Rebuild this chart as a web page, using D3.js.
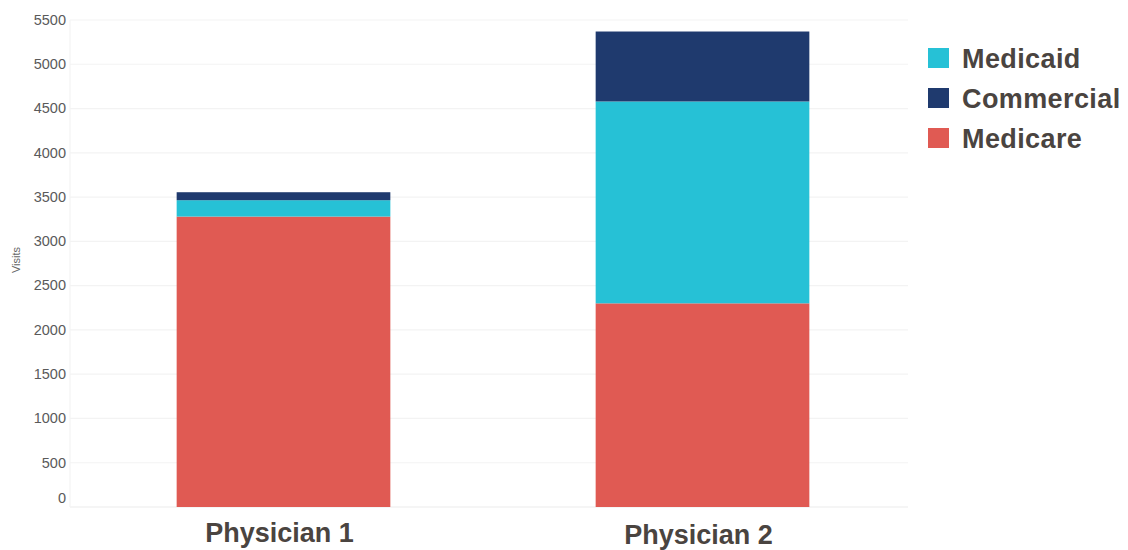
<!DOCTYPE html>
<html>
<head>
<meta charset="utf-8">
<script src="https://cdn.jsdelivr.net/npm/d3@7"></script>
<style>
  html, body { margin: 0; padding: 0; background: #ffffff; }
  svg { display: block; }
</style>
</head>
<body>
<svg id="chart" width="1128" height="550"></svg>
<script>
// Visits per physician, split by payer
const physicians = ["Physician 1", "Physician 2"];
const payers = ["Medicare", "Medicaid", "Commercial"];      // stacking order, bottom to top
const medicare   = [3280, 2300];
const medicaid   = [185, 2280];
const commercial = [90, 790];
const yTicks = [0, 500, 1000, 1500, 2000, 2500, 3000, 3500, 4000, 4500, 5000, 5500];
const legendOrder = ["Medicaid", "Commercial", "Medicare"];

const colors = { Medicare: "#e05a53", Medicaid: "#26c1d6", Commercial: "#1f3a6e" };

const rows = physicians.map((p, i) => ({
  name: p, Medicare: medicare[i], Medicaid: medicaid[i], Commercial: commercial[i]
}));

const svg = d3.select("#chart");
const plotLeft = 70, plotRight = 908, plotTop = 20, plotBottom = 507;

const x = d3.scaleBand().domain(physicians).range([74, 912]).paddingInner(0.49).paddingOuter(0.245);
const y = d3.scaleLinear().domain([0, 5500]).range([plotBottom, plotTop]);

// gridlines
svg.append("g").selectAll("line").data(yTicks).join("line")
  .attr("x1", plotLeft).attr("x2", plotRight)
  .attr("y1", d => y(d)).attr("y2", d => y(d))
  .attr("stroke", d => d === 0 ? "#ececec" : "#f3f3f3").attr("stroke-width", 1.2);
svg.append("line")
  .attr("x1", plotLeft).attr("x2", plotLeft).attr("y1", plotTop).attr("y2", plotBottom)
  .attr("stroke", "#f3f3f3").attr("stroke-width", 1.2);

// y axis labels
const yAxis = d3.axisLeft(y).tickValues(yTicks).tickFormat(d3.format("d")).tickSize(0).tickPadding(4);
const yg = svg.append("g").attr("transform", `translate(${plotLeft},0)`).call(yAxis);
yg.select(".domain").remove();
yg.selectAll("text")
  .attr("font-family", "Liberation Sans, Arial, sans-serif")
  .attr("font-size", 14.5).attr("fill", "#5a5a5a")
  .attr("dy", d => d === 0 ? "-0.3em" : "0.3em");

svg.append("text")
  .attr("transform", `translate(20,260) rotate(-90)`)
  .attr("text-anchor", "middle")
  .attr("font-family", "Liberation Sans, Arial, sans-serif")
  .attr("font-size", 11).attr("fill", "#666")
  .text("Visits");

// stacked bars
const series = d3.stack().keys(payers)(rows);
svg.append("g").selectAll("g").data(series).join("g")
  .attr("fill", s => colors[s.key])
  .selectAll("rect").data(s => s).join("rect")
  .attr("x", d => x(d.data.name))
  .attr("width", x.bandwidth())
  .attr("y", d => y(d[1]))
  .attr("height", d => y(d[0]) - y(d[1]));

// category labels
svg.append("g").selectAll("text").data(physicians).join("text")
  .attr("x", d => x(d) + x.bandwidth() / 2 - 4)
  .attr("y", (d, i) => i === 0 ? 542 : 544)
  .attr("text-anchor", "middle")
  .attr("font-family", "Liberation Sans, Arial, sans-serif")
  .attr("font-weight", "bold").attr("font-size", 27).attr("fill", "#4a4440")
  .text(d => d);

// legend
const legend = svg.append("g").attr("transform", "translate(928,48)");
const item = legend.selectAll("g").data(legendOrder).join("g")
  .attr("transform", (d, i) => `translate(0,${i * 40})`);
item.append("rect").attr("width", 21).attr("height", 20).attr("fill", d => colors[d]);
item.append("text")
  .attr("x", 34).attr("y", 19.5)
  .attr("font-family", "Liberation Sans, Arial, sans-serif")
  .attr("font-weight", "bold").attr("font-size", 27).attr("fill", "#4a4440")
  .attr("letter-spacing", 0.4)
  .text(d => d);
</script>
</body>
</html>
